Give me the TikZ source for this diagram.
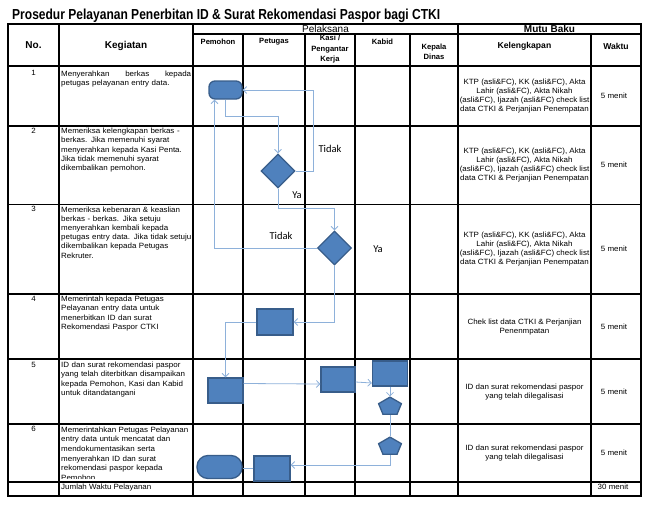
\documentclass[tikz,border=0pt]{standalone}
\usepackage{fontspec}
\setmainfont{Liberation Sans}
\newfontfamily\judulfont[FakeStretch=0.83]{Liberation Sans}
\newfontfamily\isifont[FakeStretch=1.05]{Liberation Sans}
\newfontfamily\labelfont{Carlito}
\usepackage{tikz}
\usetikzlibrary{positioning,calc,arrows.meta,shapes.geometric}
\usepackage{xcolor}
\definecolor{shapefill}{HTML}{4F81BD}
\definecolor{shapeline}{HTML}{385D8A}
\definecolor{flowline}{HTML}{8EB1DA}

\begin{document}
\begin{tikzpicture}[x=1pt,y=-1pt,
    grid/.style={line width=1.1pt},
    hdr/.style={inner sep=0pt,font=\bfseries\fontsize{10}{12}\selectfont},
    subhdr/.style={inner sep=0pt,align=center,font=\bfseries\fontsize{7.6}{10.7}\selectfont},
    nomor/.style={anchor=north,inner sep=0pt,font=\isifont\fontsize{7.6}{9.2}\selectfont},
    kegiatan/.style={anchor=north west,inner sep=0pt,text width=135pt,align=left,font=\isifont\fontsize{7.6}{9.2}\selectfont},
    lengkap/.style={inner sep=0pt,align=center,font=\isifont\fontsize{7.6}{8.8}\selectfont},
    waktu/.style={inner sep=0pt,font=\isifont\fontsize{7.6}{8.8}\selectfont},
    proc/.style={rectangle,draw=shapeline,fill=shapefill,line width=1.3pt,minimum width=35pt,minimum height=25pt,inner sep=0pt},
    terminal/.style={proc,rounded corners=6pt},
    decision/.style={diamond,draw=shapeline,fill=shapefill,line width=1.3pt,minimum size=34pt,inner sep=0pt},
    penta/.style={regular polygon,regular polygon sides=5,draw=shapeline,fill=shapefill,line width=1.3pt,minimum size=24pt,inner sep=0pt,yscale=0.79},
    flow/.style={draw=flowline,line width=0.8pt,-{Straight Barb[length=3.5pt,width=7pt]}},
    link/.style={draw=flowline,line width=0.8pt},
    lbl/.style={inner sep=0pt,font=\labelfont\fontsize{10.5}{12}\selectfont}]

\useasboundingbox (0,0) rectangle (649,507);

% Judul
\node[anchor=base west,inner sep=0pt,font=\judulfont\bfseries\fontsize{14.5}{16}\selectfont] (judul) at (12,19.5)
  {Prosedur Pelayanan Penerbitan ID \& Surat Rekomendasi Paspor bagi CTKI};

% Isi baris (teks dipotong oleh baris jumlah)
\node[nomor] (n1) at (33.5,70) {1};
\node[kegiatan] (k1) at (61,71) {\hbox to 130pt{Menyerahkan\hfill berkas\hfill kepada}\\petugas pelayanan entry data.};
\node[nomor] (n2) at (33.5,127.5) {2};
\node[kegiatan] (k2) at (61,128) {Memeriksa kelengkapan berkas -\\berkas. Jika memenuhi syarat\\menyerahkan kepada Kasi Penta.\\Jika tidak memenuhi syarat\\dikembalikan pemohon.};
\node[nomor] (n3) at (33.5,206) {3};
\node[kegiatan] (k3) at (61,206.3) {Memeriksa kebenaran \& keaslian\\berkas - berkas. Jika setuju\\menyerahkan kembali kepada\\petugas entry data. Jika tidak setuju\\dikembalikan kepada Petugas\\Rekruter.};
\node[nomor] (n4) at (33.5,296) {4};
\node[kegiatan] (k4) at (61,296) {Memerintah kepada Petugas\\Pelayanan entry data untuk\\menerbitkan ID dan surat\\Rekomendasi Paspor CTKI};
\node[nomor] (n5) at (33.5,362) {5};
\node[kegiatan] (k5) at (61,362) {ID dan surat rekomendasi paspor\\yang telah diterbitkan disampaikan\\kepada Pemohon, Kasi dan Kabid\\untuk ditandatangani};
\node[nomor] (n6) at (33.5,426) {6};
\begin{scope}
  \clip (59,424) rectangle (193,478.5);
  \node[kegiatan,font=\isifont\fontsize{7.6}{9.7}\selectfont] (k6) at (61,426.3) {Memerintahkan Petugas Pelayanan\\entry data untuk mencatat dan\\mendokumentasikan serta\\menyerahkan ID dan surat\\rekomendasi paspor kepada\\Pemohon};
\end{scope}
\node[anchor=base west,inner sep=0pt,font=\isifont\fontsize{7.6}{9.2}\selectfont] (jumlah) at (61,489) {Jumlah Waktu Pelayanan};

% Mutu baku
\node[lengkap] (l1) at (524.5,96) {KTP (asli\&FC), KK (asli\&FC), Akta\\Lahir (asli\&FC), Akta Nikah\\(asli\&FC), Ijazah (asli\&FC) check list\\data CTKI \& Perjanjian Penempatan};
\node[lengkap] (l2) at (524.5,165) {KTP (asli\&FC), KK (asli\&FC), Akta\\Lahir (asli\&FC), Akta Nikah\\(asli\&FC), Ijazah (asli\&FC) check list\\data CTKI \& Perjanjian Penempatan};
\node[lengkap] (l3) at (524.5,249) {KTP (asli\&FC), KK (asli\&FC), Akta\\Lahir (asli\&FC), Akta Nikah\\(asli\&FC), Ijazah (asli\&FC) check list\\data CTKI \& Perjanjian Penempatan};
\node[lengkap] (l4) at (524.5,327) {Chek list data CTKI \& Perjanjian\\Penenmpatan};
\node[lengkap] (l5) at (524.5,392) {ID dan surat rekomendasi paspor\\yang telah dilegalisasi};
\node[lengkap] (l6) at (524.5,453) {ID dan surat rekomendasi paspor\\yang telah dilegalisasi};
\node[waktu] (w1) at (614,96) {5 menit};
\node[waktu] (w2) at (614,165) {5 menit};
\node[waktu] (w3) at (614,249) {5 menit};
\node[waktu] (w4) at (614,327) {5 menit};
\node[waktu] (w5) at (614,392) {5 menit};
\node[waktu] (w6) at (614,453) {5 menit};
\node[waktu] (wtotal) at (613,486.5) {30 menit};

% Kepala tabel
\node[hdr] (no) at (33.5,45.5) {No.};
\node[hdr] (keg) at (126,45.5) {Kegiatan};
\node[inner sep=0pt,font=\fontsize{10}{12}\selectfont] (pelaksana) at (325.5,28.5) {Pelaksana};
\node[hdr] (mutu) at (549.5,28.5) {Mutu Baku};
\node[subhdr] (pemohon) at (218,42) {Pemohon};
\node[subhdr] (petugas) at (274,42) {Petugas};
\node[subhdr] (kasi) at (330,49.2) {Kasi /\\Pengantar\\Kerja};
\node[subhdr] (kabid) at (382.5,42) {Kabid};
\node[subhdr] (kadis) at (434,51.7) {Kepala\\Dinas};
\node[subhdr,font=\bfseries\fontsize{8.6}{10}\selectfont] (kelengkapan) at (524.5,46.5) {Kelengkapan};
\node[subhdr,font=\bfseries\fontsize{8.6}{10}\selectfont] (waktu) at (616,46.5) {Waktu};

% Garis tabel
\draw[grid] (8,24) rectangle (641,496);
\foreach \y in {66,126,204.5,294,359,424,482}
  \draw[grid] (8,\y) -- (641,\y);
\draw[grid] (193,34) -- (641,34);
\foreach \x in {59,193,458}
  \draw[grid] (\x,24) -- (\x,496);
\foreach \x in {243,305,355,410,591}
  \draw[grid] (\x,34) -- (\x,496);

% Bagan alir
\node[terminal,minimum width=33pt,minimum height=18pt] (mulai) at (225.5,90) {};
\node[decision] (cek1) at (278,171) {};
\node[decision] (cek2) at (334.5,248) {};
\node[proc,minimum width=36pt,minimum height=26pt] (terbit) at (275,322) {};
\node[proc] (ttdpemohon) at (225.5,390.5) {};
\node[proc,minimum width=34pt] (ttdkasi) at (338,379.5) {};
\node[proc] (ttdkabid) at (390,373.5) {};
\node[penta] (sambung1) at (390,406.6) {};
\node[penta] (sambung2) at (390,446.6) {};
\node[proc,minimum width=36pt] (catat) at (272,468.5) {};
\node[terminal,minimum width=45pt,minimum height=23pt,rounded corners=11pt] (selesai) at (219.5,467) {};

\draw[flow] (mulai.south) -- ++(0,17) -| (cek1.north);
\draw[flow] (cek1.east) -- ++(18,0) |- (mulai.east);
\draw[flow] (cek1.south) -- ++(0,20) -| (cek2.north);
\draw[flow] (cek2.west) -| ([xshift=-11pt]mulai.south);
\draw[flow] (cek2.south) |- (terbit.east);
\draw[flow] (terbit.west) -| (ttdpemohon.north);
\draw[flow] ([yshift=7pt]ttdpemohon.east) -- ([yshift=-4.5pt]ttdkasi.west);
\draw[flow] ([yshift=-2.5pt]ttdkasi.east) -- ([yshift=-9.5pt]ttdkabid.west);
\draw[flow] (ttdkabid.south) -- (sambung1.north);
\draw[link] (sambung1.south) -- (sambung2.north);
\draw[flow] (sambung2.south) |- ([yshift=3.5pt]catat.east);
\draw[link] (catat.west) -- (catat.west -| selesai.east);

% Label keputusan
\node[lbl] (tidak1) at (330,148.5) {Tidak};
\node[lbl] (ya1) at (297,195) {Ya};
\node[lbl] (tidak2) at (281,236) {Tidak};
\node[lbl] (ya2) at (378,249) {Ya};

\end{tikzpicture}
\end{document}
